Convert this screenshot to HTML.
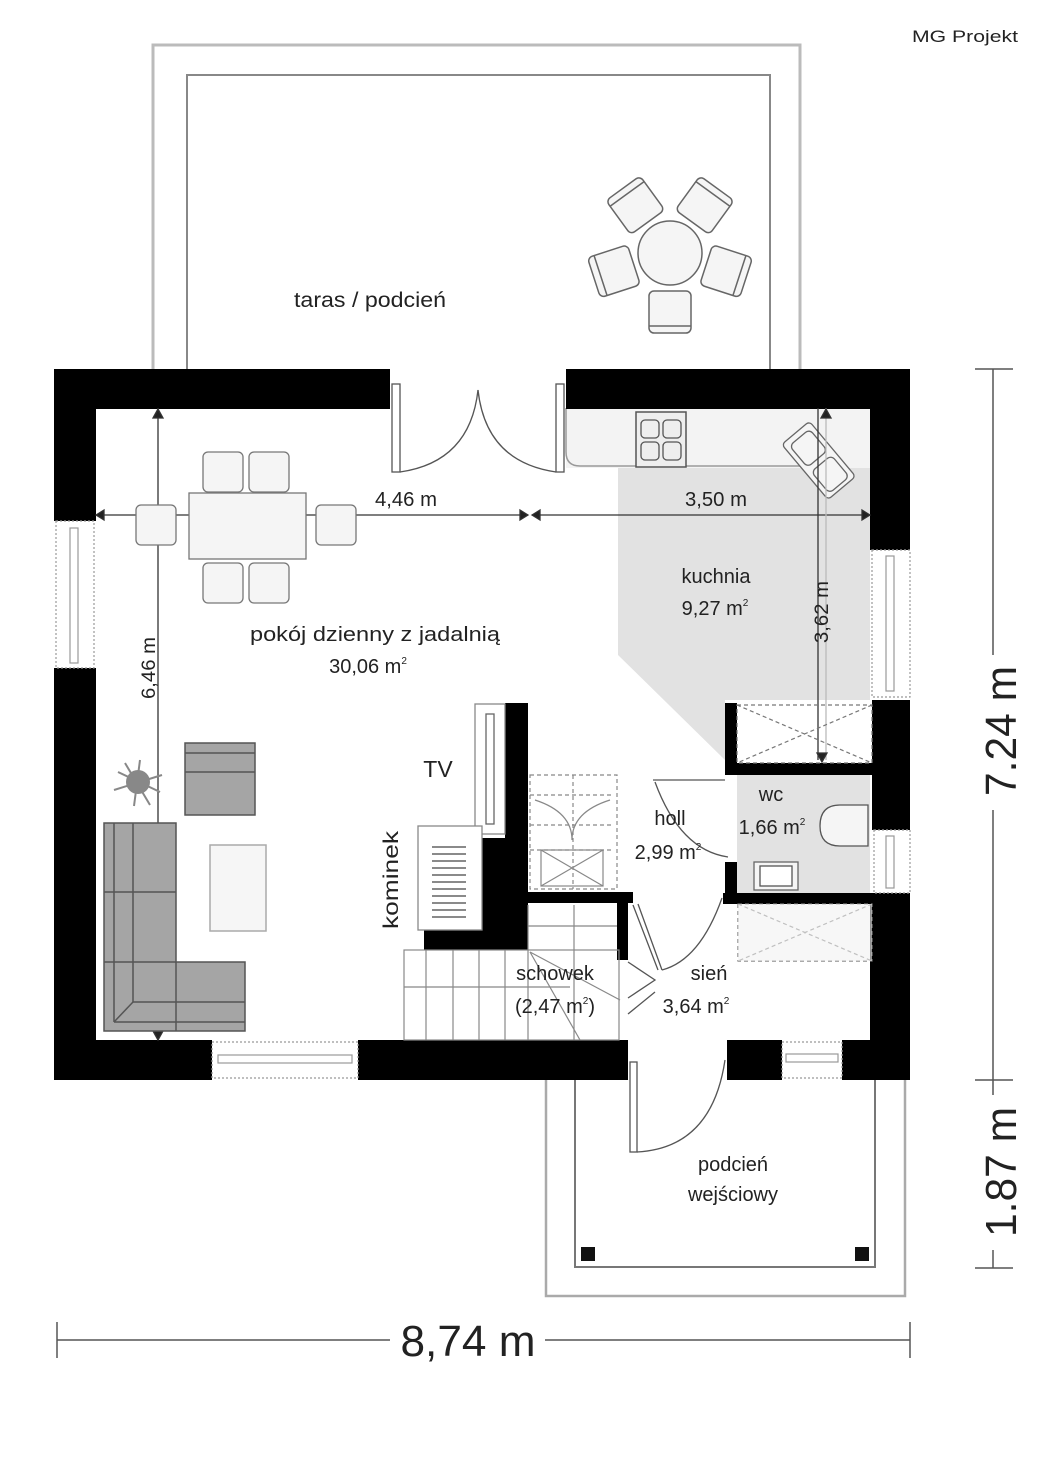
<!DOCTYPE html>
<html><head><meta charset="utf-8"><style>
html,body{margin:0;padding:0;background:#fff;}
svg{display:block;}
text{font-family:"Liberation Sans",sans-serif;fill:#222;}
</style></head><body>
<svg width="1050" height="1465" viewBox="0 0 1050 1465" xmlns="http://www.w3.org/2000/svg">
<rect width="1050" height="1465" fill="#fff"/>
<!-- logo -->
<text x="912" y="42" font-size="17" textLength="106" lengthAdjust="spacingAndGlyphs" fill="#111">MG Projekt</text>

<!-- terrace outline -->
<path d="M153 369 V45 H800 V369" fill="none" stroke="#bbb" stroke-width="3"/>
<path d="M187 369 V75 H770 V369" fill="none" stroke="#888" stroke-width="2"/>
<text x="370" y="307" font-size="21" text-anchor="middle" textLength="152" lengthAdjust="spacingAndGlyphs">taras / podcień</text>

<!-- round table with chairs -->
<g fill="#f5f5f5" stroke="#666" stroke-width="1.5">
<circle cx="670" cy="253" r="32"/>
<g transform="translate(670,253)">
 <g transform="rotate(0)"><rect x="-21" y="38" width="42" height="42" rx="5"/><line x1="-21" y1="73" x2="21" y2="73"/></g>
 <g transform="rotate(72)"><rect x="-21" y="38" width="42" height="42" rx="5"/><line x1="-21" y1="73" x2="21" y2="73"/></g>
 <g transform="rotate(144)"><rect x="-21" y="38" width="42" height="42" rx="5"/><line x1="-21" y1="73" x2="21" y2="73"/></g>
 <g transform="rotate(216)"><rect x="-21" y="38" width="42" height="42" rx="5"/><line x1="-21" y1="73" x2="21" y2="73"/></g>
 <g transform="rotate(288)"><rect x="-21" y="38" width="42" height="42" rx="5"/><line x1="-21" y1="73" x2="21" y2="73"/></g>
</g>
</g>

<!-- kitchen floor -->
<path d="M566 408 H870 V468 H566 Z" fill="#f3f3f3"/>
<path d="M566 408 V452 Q566 466 580 466 H800" fill="none" stroke="#999" stroke-width="1.5"/>
<path d="M618 468 H870 V700 H725 V760 L618 655 Z" fill="#e2e2e2"/>
<rect x="737" y="775" width="133" height="118" fill="#e2e2e2"/>
<!-- stove -->
<rect x="636" y="412" width="50" height="55" fill="#eee" stroke="#555" stroke-width="1.5"/>
<g fill="none" stroke="#555" stroke-width="1.3">
<rect x="641" y="420" width="18" height="18" rx="4"/><rect x="663" y="420" width="18" height="18" rx="4"/>
<rect x="641" y="442" width="18" height="18" rx="4"/><rect x="663" y="442" width="18" height="18" rx="4"/>
</g>
<!-- sink -->
<g transform="translate(820,462) rotate(-40)" fill="#f5f5f5" stroke="#666" stroke-width="1.3">
<rect x="-18" y="-38" width="36" height="72" rx="4"/><rect x="-13" y="-32" width="26" height="28" rx="5"/><rect x="-13" y="2" width="26" height="28" rx="5"/>
</g>

<!-- walls -->
<g fill="#000">
<rect x="54" y="369" width="336" height="40"/>
<rect x="54" y="369" width="42" height="152"/>
<rect x="54" y="668" width="42" height="412"/>
<rect x="54" y="1040" width="158" height="40"/>
<rect x="358" y="1040" width="270" height="40"/>
<rect x="566" y="369" width="344" height="40"/>
<rect x="870" y="369" width="40" height="181"/>
<rect x="872" y="700" width="38" height="130"/>
<rect x="870" y="893" width="40" height="187"/>
<rect x="842" y="1040" width="68" height="40"/>
<rect x="727" y="1040" width="55" height="40"/>
<!-- fireplace wall -->
<rect x="505" y="703" width="23" height="247"/>
<rect x="482" y="838" width="46" height="112"/>
<rect x="424" y="930" width="104" height="20"/>
<rect x="528" y="892" width="105" height="11"/>
<rect x="617" y="900" width="11" height="60"/>
<!-- wc walls -->
<rect x="725" y="703" width="12" height="72"/>
<rect x="725" y="763" width="147" height="12"/>
<rect x="723" y="893" width="149" height="11"/>
<rect x="725" y="862" width="12" height="42"/>
</g>

<!-- windows -->
<g fill="#fff" stroke="#999" stroke-width="1.2">
<rect x="56" y="521" width="38" height="147" stroke-dasharray="2 2"/>
<rect x="70" y="528" width="8" height="135"/>
<rect x="212" y="1042" width="146" height="36" stroke-dasharray="2 2"/>
<rect x="218" y="1055" width="134" height="8"/>
<rect x="872" y="550" width="38" height="147" stroke-dasharray="2 2"/>
<rect x="886" y="556" width="8" height="135"/>
<rect x="874" y="830" width="36" height="63" stroke-dasharray="2 2"/>
<rect x="886" y="836" width="8" height="52"/>
<rect x="782" y="1042" width="60" height="36" stroke-dasharray="2 2"/>
<rect x="786" y="1054" width="52" height="8"/>
</g>

<!-- terrace double door -->
<g fill="none" stroke="#555" stroke-width="1.3">
<rect x="392" y="384" width="8" height="88" fill="#fff"/>
<rect x="556" y="384" width="8" height="88" fill="#fff"/>
<path d="M400 472 Q470 462 478 390"/>
<path d="M556 472 Q486 462 478 390"/>
</g>

<!-- dimension lines -->
<g stroke="#333" stroke-width="1.3" fill="#222">
<line x1="96" y1="515" x2="528" y2="515"/>
<line x1="532" y1="515" x2="870" y2="515"/>
<path d="M96 515 l8 -5 v10 z"/><path d="M528 515 l-8 -5 v10 z"/>
<path d="M532 515 l8 -5 v10 z"/><path d="M870 515 l-8 -5 v10 z"/>
<line x1="158" y1="408" x2="158" y2="1040"/>
<path d="M158 409 l-5 9 h10 z"/><path d="M158 1040 l-5 -9 h10 z"/>
<line x1="818" y1="408" x2="818" y2="760"/>
<line x1="826" y1="408" x2="826" y2="760" stroke="#bbb"/>
<path d="M826 409 l-5 9 h10 z"/><path d="M822 762 l-5 -9 h10 z"/>
</g>
<text x="406" y="506" font-size="20" text-anchor="middle" textLength="62" lengthAdjust="spacingAndGlyphs">4,46 m</text>
<text x="716" y="506" font-size="20" text-anchor="middle" textLength="62" lengthAdjust="spacingAndGlyphs">3,50 m</text>
<text transform="translate(155,668) rotate(-90)" font-size="19" text-anchor="middle" textLength="62" lengthAdjust="spacingAndGlyphs">6,46 m</text>
<text transform="translate(828,612) rotate(-90)" font-size="19" text-anchor="middle" textLength="62" lengthAdjust="spacingAndGlyphs">3,62 m</text>

<!-- dining -->
<g fill="#f5f5f5" stroke="#777" stroke-width="1.3">
<rect x="189" y="493" width="117" height="66"/>
<rect x="203" y="452" width="40" height="40" rx="5"/><rect x="249" y="452" width="40" height="40" rx="5"/>
<rect x="203" y="563" width="40" height="40" rx="5"/><rect x="249" y="563" width="40" height="40" rx="5"/>
<rect x="136" y="505" width="40" height="40" rx="5"/><rect x="316" y="505" width="40" height="40" rx="5"/>
</g>

<!-- living room furniture -->
<g fill="#a5a5a5" stroke="#555" stroke-width="1.5">
<rect x="185" y="743" width="70" height="72"/>
<line x1="185" y1="753" x2="255" y2="753"/><line x1="185" y1="772" x2="255" y2="772"/>
<path d="M104 823 H176 V962 H245 V1031 H104 Z"/>
<line x1="114" y1="823" x2="114" y2="1022"/><line x1="133" y1="823" x2="133" y2="1002"/>
<line x1="104" y1="892" x2="176" y2="892"/><line x1="104" y1="962" x2="176" y2="962"/>
<line x1="114" y1="1022" x2="245" y2="1022"/><line x1="133" y1="1002" x2="245" y2="1002"/>
<line x1="176" y1="962" x2="176" y2="1031"/><line x1="114" y1="1022" x2="133" y2="1002"/>
</g>
<rect x="210" y="845" width="56" height="86" fill="#f6f6f6" stroke="#aaa" stroke-width="1.5"/>
<circle cx="138" cy="782" r="12" fill="#888"/>
<g stroke="#888" stroke-width="2"><line x1="114" y1="790" x2="162" y2="775"/><line x1="125" y1="763" x2="150" y2="805"/><line x1="140" y1="760" x2="134" y2="806"/><line x1="118" y1="772" x2="160" y2="792"/></g>

<!-- TV & fireplace -->
<rect x="475" y="704" width="30" height="130" fill="#fff" stroke="#888" stroke-width="1.3"/>
<rect x="486" y="714" width="8" height="110" fill="#fff" stroke="#666" stroke-width="1.3"/>
<rect x="418" y="826" width="64" height="104" fill="#fff" stroke="#888" stroke-width="1.3"/>
<g stroke="#444" stroke-width="1.3">
<line x1="432" y1="847" x2="466" y2="847"/><line x1="432" y1="854" x2="466" y2="854"/><line x1="432" y1="861" x2="466" y2="861"/><line x1="432" y1="868" x2="466" y2="868"/><line x1="432" y1="875" x2="466" y2="875"/><line x1="432" y1="882" x2="466" y2="882"/><line x1="432" y1="889" x2="466" y2="889"/><line x1="432" y1="896" x2="466" y2="896"/><line x1="432" y1="903" x2="466" y2="903"/><line x1="432" y1="910" x2="466" y2="910"/><line x1="432" y1="917" x2="466" y2="917"/>
</g>
<text x="438" y="777" font-size="23" text-anchor="middle">TV</text>
<text transform="translate(398,880) rotate(-90)" font-size="21" text-anchor="middle" textLength="98" lengthAdjust="spacingAndGlyphs">kominek</text>

<!-- stairs -->
<g fill="none" stroke="#888" stroke-width="1.2">
<rect x="530" y="775" width="87" height="114" stroke-dasharray="4 3"/>
<line x1="530" y1="795" x2="612" y2="795" stroke-dasharray="4 3"/>
<line x1="530" y1="825" x2="612" y2="825" stroke-dasharray="4 3"/>
<line x1="530" y1="850" x2="612" y2="850" stroke-dasharray="4 3"/>
<line x1="573" y1="775" x2="573" y2="889" stroke-dasharray="4 3"/>
<rect x="541" y="850" width="62" height="36"/>
<line x1="541" y1="850" x2="603" y2="886"/><line x1="603" y1="850" x2="541" y2="886"/>
<path d="M535 800 Q572 812 572 840 Q572 812 610 800"/>
<rect x="404" y="950" width="215" height="90"/>
<line x1="404" y1="987" x2="570" y2="987"/>
<line x1="426" y1="950" x2="426" y2="1040"/><line x1="453" y1="950" x2="453" y2="1040"/><line x1="479" y1="950" x2="479" y2="1040"/><line x1="505" y1="950" x2="505" y2="1040"/>
<line x1="528" y1="905" x2="528" y2="1040"/><line x1="574" y1="905" x2="574" y2="1040"/>
<line x1="528" y1="926" x2="617" y2="926"/>
<line x1="530" y1="952" x2="620" y2="1000"/><line x1="530" y1="952" x2="580" y2="1040"/>
</g>

<!-- doors -->
<g fill="none" stroke="#555" stroke-width="1.3">
<!-- holl->wc door -->
<line x1="653" y1="780" x2="725" y2="780"/>
<path d="M655 782 Q680 850 728 857"/>
<!-- sien doors -->
<path d="M633 905 L658 970 M638 904 L662 970"/>
<path d="M662 970 Q700 960 722 898"/>
<path d="M628 962 L655 980 L628 998 M628 1014 L655 992"/>
<!-- wc sink -->
<rect x="754" y="862" width="44" height="28" fill="#f5f5f5" stroke="#666"/>
<rect x="760" y="866" width="32" height="20" fill="#fff"/>
<!-- toilet -->
<path d="M868 805 H840 Q820 805 820 826 Q820 846 840 846 H868 Z" fill="#f5f5f5"/>
<!-- front door -->
<rect x="630" y="1062" width="7" height="90" fill="#fff"/>
<path d="M637 1152 Q712 1148 725 1060"/>
</g>
<!-- wc closet / wardrobe boxes -->
<g fill="none" stroke="#777" stroke-width="1.2" stroke-dasharray="4 3">
<rect x="737" y="705" width="135" height="58"/>
<line x1="737" y1="705" x2="872" y2="763"/><line x1="872" y1="705" x2="737" y2="763"/>
<rect x="738" y="904" width="134" height="57"/>
<line x1="738" y1="904" x2="872" y2="961"/><line x1="872" y1="904" x2="738" y2="961"/>
</g>
<rect x="738" y="904" width="134" height="57" fill="#f2f2f2" fill-opacity="0.6"/>

<!-- entrance porch -->
<path d="M546 1080 V1296 H905 V1080" fill="none" stroke="#aaa" stroke-width="2.5"/>
<path d="M575 1080 V1267 H875 V1080" fill="none" stroke="#777" stroke-width="2"/>
<rect x="581" y="1247" width="14" height="14" fill="#111"/>
<rect x="855" y="1247" width="14" height="14" fill="#111"/>

<!-- room labels -->
<g font-size="20" text-anchor="middle">
<text x="375" y="641" textLength="250" lengthAdjust="spacingAndGlyphs">pokój dzienny z jadalnią</text>
<text x="368" y="673">30,06 m<tspan font-size="10" dy="-9">2</tspan></text>
<text x="716" y="583">kuchnia</text>
<text x="715" y="615">9,27 m<tspan font-size="10" dy="-9">2</tspan></text>
<text x="670" y="825">holl</text>
<text x="668" y="859">2,99 m<tspan font-size="10" dy="-9">2</tspan></text>
<text x="771" y="801">wc</text>
<text x="772" y="834">1,66 m<tspan font-size="10" dy="-9">2</tspan></text>
<text x="555" y="980">schowek</text>
<text x="555" y="1013">(2,47 m<tspan font-size="10" dy="-9">2</tspan><tspan dy="9">)</tspan></text>
<text x="709" y="980">sień</text>
<text x="696" y="1013">3,64 m<tspan font-size="10" dy="-9">2</tspan></text>
<text x="733" y="1171">podcień</text>
<text x="733" y="1201">wejściowy</text>
</g>

<!-- overall dimensions -->
<g stroke="#555" stroke-width="1.5">
<line x1="57" y1="1340" x2="390" y2="1340"/><line x1="545" y1="1340" x2="910" y2="1340"/>
<line x1="57" y1="1322" x2="57" y2="1358"/><line x1="910" y1="1322" x2="910" y2="1358"/>
<line x1="993" y1="369" x2="993" y2="655"/><line x1="993" y1="810" x2="993" y2="1095"/>
<line x1="975" y1="369" x2="1013" y2="369"/><line x1="975" y1="1080" x2="1013" y2="1080"/>
<line x1="993" y1="1250" x2="993" y2="1268"/><line x1="975" y1="1268" x2="1013" y2="1268"/>
</g>
<text x="468" y="1356" font-size="44" text-anchor="middle" textLength="135" lengthAdjust="spacingAndGlyphs">8,74 m</text>
<text transform="translate(1016,731) rotate(-90)" font-size="44" text-anchor="middle" textLength="130" lengthAdjust="spacingAndGlyphs">7.24 m</text>
<text transform="translate(1016,1172) rotate(-90)" font-size="44" text-anchor="middle" textLength="130" lengthAdjust="spacingAndGlyphs">1.87 m</text>
</svg>
</body></html>
